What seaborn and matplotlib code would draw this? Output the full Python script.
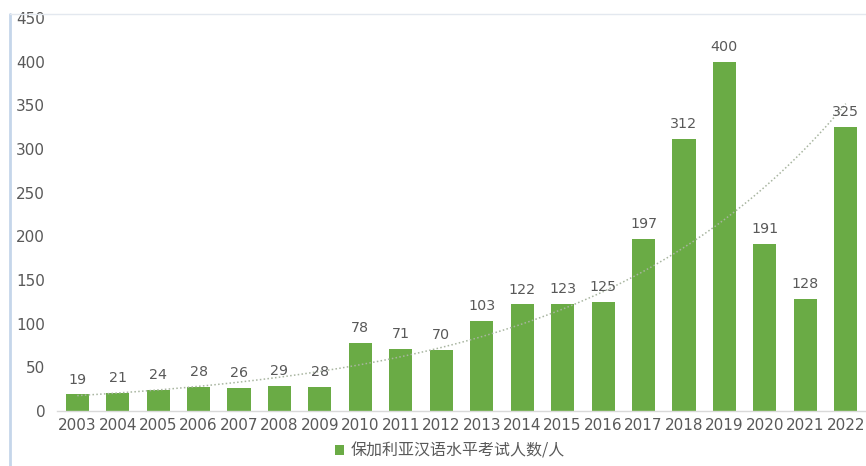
import numpy as np
import pandas as pd
import matplotlib
matplotlib.use("Agg")
import matplotlib.pyplot as plt
from matplotlib.lines import Line2D
from matplotlib.patches import Patch
import seaborn as sns

years = ["2003", "2004", "2005", "2006", "2007", "2008", "2009", "2010", "2011", "2012",
         "2013", "2014", "2015", "2016", "2017", "2018", "2019", "2020", "2021", "2022"]
counts = [19, 21, 24, 28, 26, 29, 28, 78, 71, 70,
          103, 122, 123, 125, 197, 312, 400, 191, 128, 325]
legend_label = "保加利亚汉语水平考试人数/人"
y_ticks = [0, 50, 100, 150, 200, 250, 300, 350, 400, 450]

sns.set_theme(style="white")
plt.rcParams['font.family'] = ['DejaVu Sans', 'Noto Sans CJK SC']

df = pd.DataFrame({"year": years, "count": counts})

fig = plt.figure(figsize=(8.66, 4.66), dpi=100)
W, H = 866, 466
ax = fig.add_axes([57 / W, 1 - 411 / H, (866 - 57) / W, (411 - 18) / H])

green = "#6aab45"
sns.barplot(data=df, x="year", y="count", color=green, width=0.57, ax=ax,
            saturation=1, edgecolor="none")

# exponential trendline fitted to the bar values
xi = np.arange(len(counts))
b, a = np.polyfit(xi, np.log(counts), 1)
xs = np.linspace(0, len(counts) - 1, 200)
ax.plot(xs, np.exp(a + b * xs), linestyle=(0, (1, 1.5)), color="#a8b5a0", lw=1.1, zorder=1)

for i, v in enumerate(counts):
    ax.text(i, v + 9, str(v), ha="center", va="bottom", fontsize=10.3, color="#595959")

ax.set_ylim(0, 450)
ax.set_xlim(-0.5, len(counts) - 0.5)
ax.set_yticks(y_ticks)
ax.set_yticklabels([str(t) for t in y_ticks])
ax.set_xlabel("")
ax.set_ylabel("")
ax.tick_params(axis="both", length=0, labelsize=11, colors="#595959")
ax.tick_params(axis="x", pad=5)
ax.tick_params(axis="y", pad=8.5)
for s in ["top", "right", "left"]:
    ax.spines[s].set_visible(False)
ax.spines["bottom"].set_color("#d9d9d9")
ax.spines["bottom"].set_linewidth(1)
ax.patch.set_alpha(0)

handle = Patch(facecolor=green, edgecolor="none")
fig.legend([handle], [legend_label], loc="center", bbox_to_anchor=(450 / W, 1 - 451 / H),
           frameon=False, handlelength=0.6, handleheight=0.6,
           handletextpad=0.4, labelcolor="#595959",
           prop={"family": ["Noto Sans CJK SC", "DejaVu Sans"], "size": 11.5})

# image border lines
fig.add_artist(Line2D([10 / W, 10 / W], [0, 1 - 14 / H], color="#c5d6ea", lw=2))
fig.add_artist(Line2D([10 / W, 1], [1 - 14 / H, 1 - 14 / H], color="#e3e8ef", lw=1))

fig.savefig("out.png", dpi=100)
